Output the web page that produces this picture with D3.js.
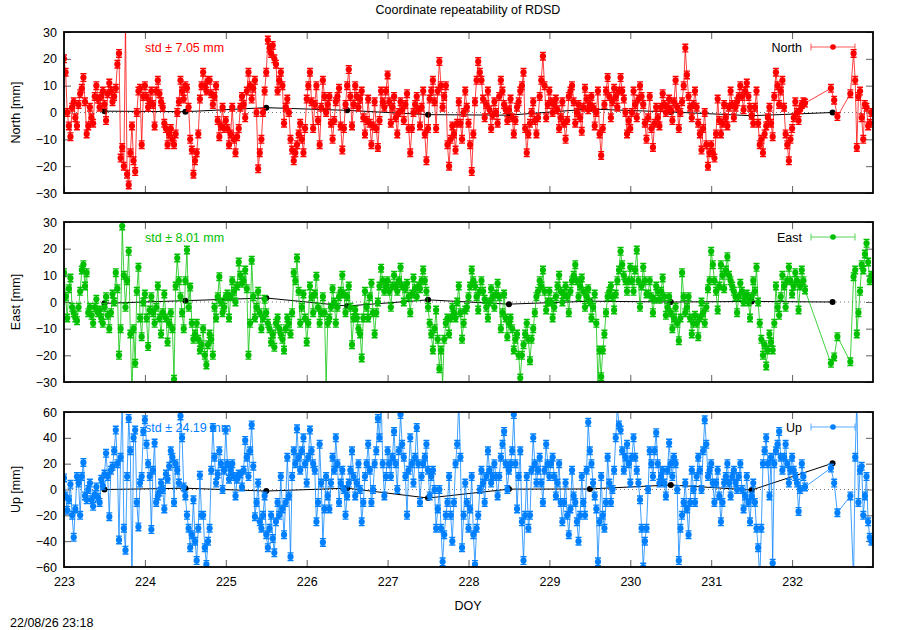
<!DOCTYPE html>
<html lang="en">
<head>
<meta charset="UTF-8">
<title>Coordinate repeatability of RDSD</title>
<script src="https://cdnjs.cloudflare.com/ajax/libs/d3/7.8.5/d3.min.js"></script>
<style>
  body { margin: 0; background: #fff; }
  svg { display: block; font-family: "Liberation Sans", Arial, sans-serif; }
  text { font-size: 12.5px; }
</style>
</head>
<body>
<svg id="chart" width="900" height="630"></svg>
<script>
// epochs: one sample every 0.04 day from DOY 223 (A) and a second set offset by 0.02 day (B)
// null = no solution at that epoch
const doyStart = 223, doyStep = 0.04;

const northA = [
  20, 0, -9, 4, -5, 7, 13, -8, 2, -4, 10, 2, 8, -3, 11, 4, 9, 22, -13, 34, -27, -5, -22, 8, -12,
  10, 2, 8, -5, 12, 4, -4, -12, -6, -12, 0, 12, 5, 9, -10, -23, -15, 5, 15, 8, 12, 3, 10, -9, 2,
  -3, -12, 2, -15, -6, 6, -2, 15, 5, 12, -21, -10, 8, 27, 22, 20, 8, 15, -4, 5, -10, -18, -12, -4, -15,
  5, 15, -6, 10, -12, 12, 0, 6, -10, 4, 9, -14, 3, 16, -5, 10, 2, 8, -8, 5, -12, 4, -13, 8, 2,
  14, -4, 6, -8, 4, -3, 7, -15, 0, 6, -5, 8, -18, 5, 12, -6, 19, 2, 10, -20, -5, -14, 4, -10, 8,
  -4, -22, 4, 19, 12, -2, 8, -6, 4, -4, 12, 3, -3, 5, -8, 2, 8, 15, -15, -4, 4, -8, 6, 21, -2,
  8, 0, 5, -6, 4, -10, 6, 10, -4, 3, -7, 9, 1, 6, -5, 8, -16, 3, 13, -2, 9, 2, 13, 5, -8,
  -6, 8, -2, 10, 3, -10, 6, -13, 2, -5, 7, 0, 5, -3, 12, -6, 4, 24, 6, -2, 8, -4, -14, 0, -20,
  -12, -17, 5, -8, 3, -5, 8, -2, 4, 10, 1, 11, 2, -4, 8, -12, -15, -5, 2, -9, 15, 3, 12, -8, -18,
  -6, 4, -3, 3, 3.5, null, null, null, null, null, null, null, 9, 4.6, -1.5, null, null, null, 7, 22, -13, 8, -10, 2, -4
];
const northB = [
  15, -5, 2, -2, 3, 9, 4, -5, -2, 6, 5, 6, 3, 7, 8, 6, 18, -17, -20, -23, -15, -18, 0, 9, 6,
  6, 4, 3, 8, 7, 2, -6, -8, -10, -8, 4, 8, 10, 2, -14, -18, -8, 10, 10, 12, 7, 6, -3, -5, -6,
  -6, -8, -10, -9, 2, 3, 8, 10, 9, 0, -15, 0, 15, 24, 25, 18, 12, 10, 2, 0, -14, -15, -8, -10, -6,
  10, 4, 3, -3, 2, 6, 3, -4, -3, 6, -5, -6, 10, 6, 3, 6, 5, -2, -3, -4, -5, -6, -3, 4, 8,
  4, 2, -2, 0, 1, 3, -6, -6, 3, 1, 2, -8, -6, 8, 4, 8, 10, 6, -12, -10, -8, -4, -4, 0, 2,
  -12, -8, 12, 15, 5, 3, 1, -1, 0, 6, 8, 1, 1, -2, -3, 4, 10, -6, -8, 0, -3, -2, 12, 10, 3,
  4, 3, 1, -2, -4, -3, 8, 4, 0, -2, 2, 5, 3, 2, 0, -8, -6, 8, 6, 4, 6, 8, 8, 0, -3,
  0, 3, 5, 6, -4, -2, -6, -4, -2, 2, 3, 2, 1, 4, 2, 0, 10, 14, 2, 3, 2, -8, -6, -12, -15,
  -15, -8, -3, -4, -2, 2, 3, 2, 6, 6, 8, 6, -1, 2, -4, -10, -8, -2, -4, 6, 10, 8, 2, -12, -10,
  -2, 0, 1, 4, null, null, null, null, null, null, null, null, null, null, null, null, null, null, null, 12, 6, -2, 3, -5, 0
];

const eastA = [
  11, -6, 9, -4, -7, 4, 14, 11, -2, -8, 1, -3, -8, 2, -10, 3, 11, -20, 28.5, -2, 19, -35, -23, 13, -13,
  3, -16.7, 2, -8, 6, -12, 3, -15, -4, -29, 16.5, 2, -10, 19.5, 5.6, -14, -8, -18, -10, -23.6, -12, -20, -6, 9.5, -4,
  2, -6, 8, 0, 15, 7, 12, -20, 15.7, -6, 4, -10, 1, -8, -15, -17, -6, -12, -18, -6, -12, 11, 16.5, -8, 3,
  -15, 6, -4, 9.7, -8, 2, -31, -6, 5, -8, 2, 10, -4, 6, -16, -3, -10, -21, 4, -6, 7, -12, 0, 12.7, 4,
  8, -2, 10, 4, 13, 0, 7, -4, 9, 2, 5, 12, 4, -8, -18, -3, -25, -31, -8, -12, -2, -6, 6, -14, -3,
  2, 12, 6, -3, 8, 1, -6, 5, -2, 7, -10, 3, -13, -6, -18, -12, -28.5, -16, -8, -22, -10, 2, 8, 12, -3,
  4, -6, 2, 10, 0, 6, -4, 8, 14, 2, 9, -2, 5, -6, 3, -31, -28, -12, 2, 6, -3, 8, 19, 10, 4,
  13, 4, 19.5, -2, 13, 3, 8, -4, 6, 1, 9, -5, 2, -10, -2, -14.5, 11, -4, 2, -12, -5, -13, 0, -8, 5,
  19, 8, -3, 14, 5, 17, 8, 4, -4, 7, 0, 3, -6, 8, 13, -8, -20, -24, -12, -18, 6, -5, 10, -2, 13,
  3, 11, -3, 12, 4.5, null, null, null, null, null, null, null, -23, -20.6, -13, null, null, null, -22.4, 9.5, -12, 4, 12, 22, 8
];
const eastB = [
  2, 5, -2, -6, -2, 12, 6, -4, -5, -2, -4, -6, -2, -5, -4, 0, 5, -10, 10, 8, -12, -10, 4, -6, 0,
  -6, -3, -4, -2, -6, -4, -6, -8, -10, 6, 8, -4, 8, -2, -8, -12, -14, -16, -20, -16, -14, -2, 2, 0, -2,
  3, 2, 4, 6, 10, 8, 5, -8, 2, -2, -4, -6, -4, -10, -12, -8, -10, -14, -10, -8, -4, 8, 4, -2, -6,
  -8, 2, 3, -2, -4, -4, -8, -2, 0, -2, 4, 3, 2, -2, -6, -6, -12, -6, -2, 2, -4, -4, 6, 8, 6,
  4, 6, 6, 8, 6, 5, 2, 3, 5, 6, 8, 8, -2, -12, -10, -14, -18, -14, -6, -6, -4, 0, -4, -8, -2,
  6, 8, 2, 4, 4, -2, 0, 2, 3, 2, -4, -6, -8, -10, -14, -20, -20, -12, -14, -14, -4, 4, 6, 4, 0,
  0, -2, 6, 4, 3, 2, 4, 10, 8, 6, 4, 2, 0, -2, -8, -18, -18, -4, 4, 2, 3, 12, 14, 8, 8,
  8, 12, 8, 6, 8, 3, 2, 1, 4, 4, 2, -2, -4, -6, -8, -6, 2, -2, -6, -8, -8, -6, -4, -2, 8,
  14, 4, 6, 10, 12, 10, 6, 2, 2, 4, 2, 0, 2, 4, 0, -14, -16, -18, -15, -8, -2, 2, 6, 8, 8,
  6, 8, 6, 8, null, null, null, null, null, null, null, null, null, null, null, null, null, null, null, 12, -4, 14, 18, 15, 10
];

const upA = [
  9, -16, 4, -37, 10, -20, 21, -8, 5, -13, 2, -10, 3, 28, -21, 18, 46, -39, 70, -47, 55, -75, 46, -29, 10,
  54, 20, -31, 36, -5, 5, -15, 8, 30, -10, 15, 57, 2, -20, -45, -8, -55, 11, -20, -58, -30, 48, 5, 30, 0,
  46, 8, 20, -5, 12, 2, 38, 10, 50, -21, 5, -30, -5, -45, -20, -49, -10, 10, -35, 25, -52, 30, 47, 15, 40,
  5, 46, 20, -25, 35, -41, 10, -15, 25, 40, -10, 15, -20, 5, 30, -5, 20, -25, 10, 35, -10, 20, 55, 70, -5,
  30, 10, 45, 0, 58, 25, -20, 40, 5, 48, -10, 20, 35, -5, 15, -30, 0, -56, -20, 10, -40, 20, 70, -45, 5,
  -30, 10, -58, -20, 15, -10, 30, 5, 20, -5, 25, 45, 0, 20, 58, -15, 30, -55, 10, -20, 40, 5, 25, -10, 35,
  10, 25, -5, 20, -25, 5, -35, 15, -10, -40, 10, -20, 52, 20, -5, -56, 10, -30, 25, -10, 15, 65, 46, 15, 35,
  5, 40, 15, -8, -60, -30, 30, 10, 44, 5, 15, -5, 36, 10, 20, -55, -20, 5, -35, 15, -10, 25, 0, 54, 10,
  20, -10, 15, -25, 5, 20, -5, 15, 0, 20, -15, 10, -25, 5, -30, -70, 20, 40, -5, -57, 30, 45, 15, 35, 5,
  25, 10, -17, 20, 2, null, null, null, null, null, null, null, 16.6, 5, -18, null, null, null, -5, -70, 70, 15, -20, 10, -37
];
const upB = [
  -5, -8, -20, -15, 5, 10, -5, 0, -8, -4, -6, 8, 12, 10, 15, 30, 20, 25, -30, 10, 30, 40, -10, 5, 45,
  35, 10, 15, -10, -2, 0, 12, 18, 25, 20, 5, 40, -5, -30, -35, -40, -30, -20, -45, -40, 15, 25, 12, 20, 15,
  20, 15, 10, 8, 12, 15, 25, 30, 18, -10, -25, -20, -35, -30, -38, -25, -20, -15, -10, -5, 10, 20, 25, 30, 20,
  25, 30, 15, -10, 5, -15, -5, 5, 15, 20, 5, 0, -5, 15, 10, 5, 0, -10, 20, 15, 0, 30, 40, 20, 10,
  20, 25, 20, 30, 35, 10, 15, 20, 25, 20, 10, 25, 15, 10, 0, -15, -30, -35, -10, -20, -10, 35, 25, -20, -10,
  -15, -35, -30, 0, 5, 10, 15, 10, 10, 10, 35, 20, 15, 30, 20, 10, -25, -20, -30, 15, 20, 15, 5, 15, 20,
  20, 10, 5, -10, -10, -20, -15, -5, -25, -20, -10, 15, 30, 5, -15, -25, -20, -10, 5, 0, 40, 50, 30, 25, 20,
  25, 25, 5, -30, -40, 0, 20, 30, 20, 10, 5, 15, 20, 25, 0, -30, -10, -15, -10, 0, 10, 15, 30, 35, 15,
  5, 5, -5, -10, 10, 5, 10, 5, 10, 0, -5, -10, -5, -10, -45, -30, 30, 20, 25, 20, 35, 25, 25, 20, 15,
  15, 5, 0, 10, null, null, null, null, null, null, null, null, null, null, null, null, null, null, null, 25, -10, 18, -5, -25, -40
];

// daily solutions (black)
const meanDoy   = [223.5, 224.5, 225.5, 226.5, 227.5, 228.5, 229.5, 230.5, 231.5, 232.5];
const northMean = [0.5, 0.3, 1.8, 0.8, -0.8, -1, 1.3, 0.2, -1.2, 0];
const eastMean  = [-0.5, 0.5, 1.5, -1.5, 0.8, -0.8, 0.3, 0, 0.2, 0];
const upMean    = [0, 1, -1.2, 1, -6.6, 0.3, 0.4, 3.5, -0.4, 20.3];

const stdText = ["std \u00b1 7.05 mm", "std \u00b1 8.01 mm", "std \u00b1 24.19 mm"];
const dayTicks = [223, 224, 225, 226, 227, 228, 229, 230, 231, 232];
const neTicks = [-30, -20, -10, 0, 10, 20, 30];
const upTicks = [-60, -40, -20, 0, 20, 40, 60];

const svg = d3.select("#chart");
const x = d3.scaleLinear().domain([223, 233]).range([64, 873]);

const panels = [
  { key: "North", label: "North [mm]", a: northA, b: northB, mean: northMean, std: stdText[0],
    color: "#ff0000", top: 32, bottom: 193, domain: [-30, 30], ticks: neTicks },
  { key: "East", label: "East [mm]", a: eastA, b: eastB, mean: eastMean, std: stdText[1],
    color: "#00c000", top: 222, bottom: 382, domain: [-30, 30], ticks: neTicks },
  { key: "Up", label: "Up [mm]", a: upA, b: upB, mean: upMean, std: stdText[2],
    color: "#0080ff", top: 412, bottom: 567, domain: [-60, 60], ticks: upTicks }
];

svg.append("text").attr("x", 468).attr("y", 14).attr("text-anchor", "middle")
  .text("Coordinate repeatability of RDSD");

panels.forEach((p, k) => {
  const y = d3.scaleLinear().domain(p.domain).range([p.bottom, p.top]);
  const g = svg.append("g");
  const clipId = "clip" + k;
  svg.append("clipPath").attr("id", clipId).append("rect")
    .attr("x", x.range()[0]).attr("y", p.top)
    .attr("width", x.range()[1] - x.range()[0]).attr("height", p.bottom - p.top);

  // axes (inward ticks, mirrored)
  const styleAxis = a => {
    a.select(".domain").remove();
    a.selectAll(".tick line").attr("stroke", "#606060");
    a.selectAll("text").attr("fill", "#000");
    a.attr("font-size", null).attr("font-family", null);
  };
  g.append("g").attr("transform", `translate(${x.range()[0]},0)`)
    .call(d3.axisLeft(y).tickValues(p.ticks).tickSize(-7).tickPadding(7)).call(styleAxis);
  g.append("g").attr("transform", `translate(${x.range()[1]},0)`)
    .call(d3.axisRight(y).tickValues(p.ticks).tickSize(-7).tickFormat("")).call(styleAxis);
  g.append("g").attr("transform", `translate(0,${p.top})`)
    .call(d3.axisTop(x).tickValues(dayTicks).tickSize(-7).tickFormat("")).call(styleAxis);
  g.append("g").attr("transform", `translate(0,${p.bottom})`)
    .call(d3.axisBottom(x).tickValues(dayTicks).tickSize(-7).tickPadding(10)
      .tickFormat(k === 2 ? d3.format("d") : "")).call(styleAxis);

  // y label
  svg.append("text")
    .attr("transform", `translate(19.5,${(p.top + p.bottom) / 2}) rotate(-90)`)
    .attr("text-anchor", "middle").text(p.label);

  const plot = g.append("g").attr("clip-path", `url(#${clipId})`);

  // zero line
  plot.append("line").attr("x1", x.range()[0]).attr("x2", x.range()[1])
    .attr("y1", y(0)).attr("y2", y(0))
    .attr("stroke", "#777").attr("stroke-width", 1).attr("stroke-dasharray", "1,3");

  // std annotation
  g.append("text").attr("x", 145).attr("y", p.top + 19.5).attr("fill", p.color).text(p.std);

  // key
  const ky = p.top + 15;
  g.append("text").attr("x", 802).attr("y", ky + 4.5).attr("text-anchor", "end").text(p.key);
  g.append("path")
    .attr("d", `M811,${ky}H855M811,${ky - 3.5}V${ky + 3.5}M855,${ky - 3.5}V${ky + 3.5}`)
    .attr("stroke", p.color).attr("stroke-opacity", 0.65).attr("fill", "none");
  g.append("circle").attr("cx", 833).attr("cy", ky).attr("r", 2.8).attr("fill", p.color);

  // daily solution line (black)
  const meanPts = meanDoy.map((d, i) => [d, p.mean[i]]);
  plot.append("path").datum(meanPts)
    .attr("d", d3.line().x(d => x(d[0])).y(d => y(d[1])))
    .attr("fill", "none").attr("stroke", "#000").attr("stroke-width", 1);
  plot.selectAll(null).data(meanPts).join("circle")
    .attr("cx", d => x(d[0])).attr("cy", d => y(d[1])).attr("r", 3).attr("fill", "#000");

  // epoch series (both sample sets merged in time order)
  const pts = p.a.map((v, i) => [doyStart + i * doyStep, v])
    .concat(p.b.map((v, i) => [doyStart + doyStep / 2 + i * doyStep, v]))
    .filter(d => d[1] !== null)
    .sort((m, n) => m[0] - n[0]);
  plot.append("path").datum(pts)
    .attr("d", d3.line().x(d => x(d[0])).y(d => y(d[1])))
    .attr("fill", "none").attr("stroke", p.color).attr("stroke-opacity", 0.75).attr("stroke-width", 1);
  const inside = pts.filter(d => d[1] >= p.domain[0] && d[1] <= p.domain[1]);
  const bars = inside.map(d => {
    const cx = x(d[0]), cy = y(d[1]);
    return `M${cx - 3},${cy - 3.8}h6M${cx},${cy - 3.8}v7.6M${cx - 3},${cy + 3.8}h6`;
  }).join("");
  plot.append("path").attr("d", bars).attr("stroke", p.color).attr("stroke-width", 1.4).attr("fill", "none");
  plot.selectAll(null).data(inside).join("circle")
    .attr("cx", d => x(d[0])).attr("cy", d => y(d[1])).attr("r", 3.1).attr("fill", p.color);

  // frame
  g.append("rect").attr("x", x.range()[0]).attr("y", p.top)
    .attr("width", x.range()[1] - x.range()[0]).attr("height", p.bottom - p.top)
    .attr("fill", "none").attr("stroke", "#000").attr("stroke-width", 1.8);
});

svg.append("text").attr("x", 468).attr("y", 609.5).attr("text-anchor", "middle").text("DOY");
svg.append("text").attr("x", 10).attr("y", 627).text("22/08/26 23:18");
</script>
</body>
</html>
